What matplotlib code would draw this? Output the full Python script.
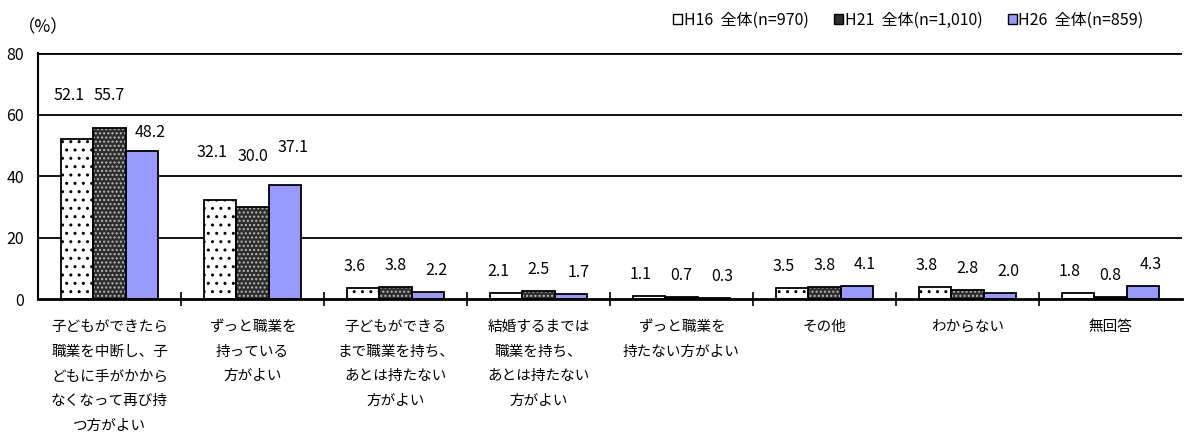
import numpy as np
import matplotlib
matplotlib.use("Agg")
import matplotlib.pyplot as plt
from matplotlib.patches import Patch

plt.rcParams['font.family'] = ['Noto Sans CJK JP', 'DejaVu Sans']

categories = ["子どもができたら\n職業を中断し、子\nどもに手がかから\nなくなって再び持\nつ方がよい",
              "ずっと職業を\n持っている\n方がよい",
              "子どもができる\nまで職業を持ち、\nあとは持たない\n方がよい",
              "結婚するまでは\n職業を持ち、\nあとは持たない\n方がよい",
              "ずっと職業を\n持たない方がよい",
              "その他",
              "わからない",
              "無回答"]
series = ["H16  全体(n=970)", "H21  全体(n=1,010)", "H26  全体(n=859)"]
h16 = [52.1, 32.1, 3.6, 2.1, 1.1, 3.5, 3.8, 1.8]
h21 = [55.7, 30.0, 3.8, 2.5, 0.7, 3.8, 2.8, 0.8]
h26 = [48.2, 37.1, 2.2, 1.7, 0.3, 4.1, 2.0, 4.3]

# label lift above the bar top (data units), hand tuned like the original
lift_big = [[14.0, 10.6, 6.1], [15.4, 16.2, 12.3]]
lift_small = 7.0

fig = plt.figure(figsize=(11.94, 4.36), dpi=100)
ax = fig.add_axes([38/1194, 1-299/436, (1182-38)/1194, 246/436])

x = np.arange(len(categories)) + 0.5
w = 0.227
vals = [h16, h21, h26]

# H16: white with small dots
ax.bar(x - w, h16, w, color='white', edgecolor='black', hatch='..', linewidth=0, zorder=3)
ax.bar(x - w, h16, w, fill=False, edgecolor='black', linewidth=1.3, zorder=4)
# H21: dark with light pattern
ax.bar(x, h21, w, color='#2e2e2e', edgecolor='#bbbbbb', hatch='....', linewidth=0, zorder=3)
ax.bar(x, h21, w, fill=False, edgecolor='black', linewidth=1.3, zorder=4)
# H26: plain lavender
ax.bar(x + w, h26, w, color='#9999ff', edgecolor='black', linewidth=1.3, zorder=3)

for i in range(len(categories)):
    for j in range(3):
        v = vals[j][i]
        lift = lift_big[i][j] if i < 2 else lift_small
        ax.text(x[i] + (j - 1) * w * 1.25, v + lift, f"{v:.1f}", ha='center', va='center',
                fontsize=11.5, zorder=5)

ax.set_xlim(0, len(categories))
ax.set_ylim(0, 80)
ax.set_yticks([0, 20, 40, 60, 80])
for g in [20, 40, 60, 80]:
    ax.axhline(g, color='black', lw=1.3 if g < 80 else 2.0, zorder=1)

ax.set_xticks(np.arange(1, len(categories)))
ax.set_xticklabels([])
ax.set_xticks(x, minor=True)
ax.set_xticklabels(categories, minor=True, fontsize=10.5, linespacing=1.97)
ax.tick_params(axis='x', which='major', direction='inout', length=10, width=1.2)
ax.tick_params(axis='x', which='minor', length=0, pad=15)
ax.tick_params(axis='y', length=0, pad=10, labelsize=11.5)

for s in ['top', 'right']:
    ax.spines[s].set_visible(False)
ax.spines['left'].set_linewidth(1.5)
ax.spines['bottom'].set_linewidth(2)
ax.spines['bottom'].set_zorder(6)

fig.text(18/1194, 1-27/436, "（%）", fontsize=12.5, va='center', ha='left')

handles = [Patch(facecolor='white', edgecolor='black'),
           Patch(facecolor='#2e2e2e', edgecolor='black'),
           Patch(facecolor='#9999ff', edgecolor='black')]
fig.legend(handles, series, loc='center right', bbox_to_anchor=(1150/1194, 1-20/436), ncol=3,
           frameon=False, fontsize=11.5, handlelength=0.55, handleheight=0.55,
           handletextpad=0.1, columnspacing=1.6, borderaxespad=0)

fig.savefig("out.png", dpi=100)
